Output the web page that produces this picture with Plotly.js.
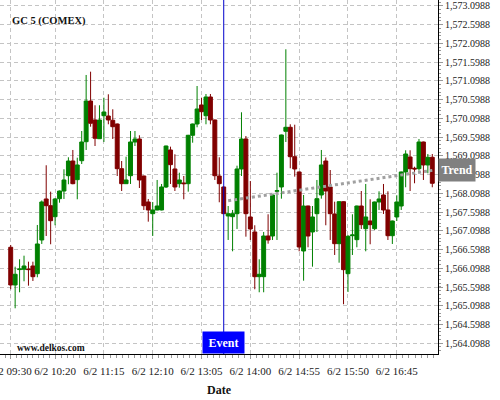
<!DOCTYPE html>
<html><head><meta charset="utf-8">
<script src="https://cdn.plot.ly/plotly-3.0.1.min.js"></script>
<style>html,body{margin:0;padding:0;background:#fff}#chart{width:500px;height:400px}</style>
</head><body><div id="chart"></div>
<script>
const day = '2023-06-02';
const symbol = 'GC 5 (COMEX)';
const watermark = 'www.delkos.com';
const times = ['09:30','09:35','09:40','09:45','09:50','09:55',
 '10:00','10:05','10:10','10:15','10:20','10:25','10:30','10:35','10:40','10:45','10:50','10:55',
 '11:00','11:05','11:10','11:15','11:20','11:25','11:30','11:35','11:40','11:45','11:50','11:55',
 '12:00','12:05','12:10','12:15','12:20','12:25','12:30','12:35','12:40','12:45','12:50','12:55',
 '13:00','13:05','13:10','13:15','13:20','13:25','13:30','13:35','13:40','13:45','13:50','13:55',
 '14:00','14:05','14:10','14:15','14:20','14:25','14:30','14:35','14:40','14:45','14:50','14:55',
 '15:00','15:05','15:10','15:15','15:20','15:25','15:30','15:35','15:40','15:45','15:50','15:55',
 '16:00','16:05','16:10','16:15','16:20','16:25','16:30','16:35','16:40','16:45','16:50','16:55',
 '17:00','17:05','17:10','17:15','17:20','17:25'];
const open = [1566.659,1565.654,1566.064,1566.072,1566.080,1566.160,1565.955,1566.854,1567.947,1567.768,
 1567.475,1567.955,1568.160,1568.568,1568.960,1568.462,1568.968,1569.475,1570.560,1570.054,
 1569.555,1570.168,1570.160,1570.046,1569.947,1568.755,1568.355,1568.568,1569.467,1569.547,
 1568.560,1567.867,1567.555,1567.654,1567.654,1568.267,1569.254,1568.747,1568.355,1568.374,
 1568.355,1569.646,1569.947,1570.454,1570.168,1570.667,1570.054,1568.560,1568.267,1567.494,
 1567.475,1567.555,1568.747,1569.547,1567.467,1567.067,1565.875,1565.875,1566.960,1566.960,
 1568.152,1568.267,1569.752,1569.859,1569.075,1568.667,1566.560,1567.760,1567.067,1567.555,
 1568.054,1568.960,1568.267,1567.547,1566.755,1567.875,1565.955,1566.968,1566.862,1567.760,
 1567.155,1567.360,1567.155,1567.867,1568.054,1567.654,1566.968,1567.467,1567.760,1568.667,
 1569.067,1568.766,1568.755,1569.467,1568.854,1569.059];
const high = [1566.720,1566.142,1566.339,1566.435,1566.275,1566.275,1567.254,1567.907,1568.846,1568.142,
 1567.974,1568.174,1568.739,1569.059,1569.254,1569.048,1569.760,1571.254,1571.342,1570.446,
 1570.446,1570.648,1570.739,1570.339,1569.960,1568.960,1569.075,1569.760,1569.760,1569.646,
 1568.570,1567.947,1567.867,1568.454,1568.347,1569.370,1569.342,1569.139,1568.648,1568.560,
 1569.656,1569.957,1570.960,1570.648,1570.747,1570.747,1570.064,1569.059,1568.280,1567.760,
 1567.654,1568.835,1570.259,1569.627,1568.427,1567.246,1566.339,1567.067,1567.539,1568.064,
 1568.648,1569.664,1571.939,1569.939,1569.928,1568.677,1568.054,1567.770,1567.760,1568.454,
 1569.254,1569.054,1568.720,1567.875,1567.885,1567.885,1566.987,1567.539,1567.770,1568.160,
 1568.347,1567.939,1567.877,1568.152,1568.347,1568.152,1567.370,1568.046,1568.677,1569.246,
 1569.246,1568.808,1569.547,1569.477,1569.147,1569.147];
const low = [1565.539,1565.032,1565.459,1565.752,1565.635,1565.760,1565.859,1566.747,1566.960,1566.739,
 1567.246,1567.848,1567.947,1568.339,1568.339,1567.939,1568.880,1569.254,1569.875,1569.360,
 1569.547,1569.467,1569.939,1569.547,1568.560,1568.160,1568.347,1568.347,1569.360,1568.240,
 1567.654,1567.342,1566.960,1567.644,1567.644,1568.240,1568.347,1568.160,1568.248,1567.939,
 1568.142,1569.448,1569.859,1570.054,1569.939,1569.939,1568.454,1567.859,1567.547,1566.854,
 1566.552,1567.147,1568.560,1566.942,1566.854,1565.539,1565.459,1565.459,1566.755,1566.854,
 1566.854,1567.955,1569.467,1568.766,1568.542,1566.552,1565.768,1566.659,1566.142,1567.067,
 1567.955,1567.246,1566.854,1566.454,1566.248,1565.139,1565.467,1566.454,1566.659,1567.147,
 1566.552,1566.739,1567.120,1567.654,1567.547,1566.854,1566.747,1567.360,1567.654,1568.259,
 1568.160,1568.366,1568.702,1568.454,1568.632,1568.259];
const close = [1565.654,1565.939,1566.080,1566.160,1566.064,1565.875,1566.747,1567.867,1567.768,1567.368,
 1567.947,1568.160,1568.454,1568.960,1568.355,1568.854,1569.467,1570.560,1569.966,1569.566,
 1570.054,1570.267,1570.054,1569.875,1568.755,1568.355,1568.454,1569.467,1569.547,1568.454,
 1567.768,1567.654,1567.654,1567.760,1568.267,1569.360,1568.862,1568.267,1568.454,1568.355,
 1569.646,1569.947,1570.347,1570.275,1570.667,1570.054,1568.568,1568.355,1567.555,1567.555,
 1567.555,1568.747,1569.547,1567.555,1567.147,1565.875,1565.939,1566.960,1566.854,1568.054,
 1568.168,1569.654,1569.859,1569.075,1568.747,1566.667,1567.760,1566.960,1567.467,1567.955,
 1568.854,1568.160,1567.555,1566.755,1567.875,1566.062,1566.952,1566.987,1567.760,1567.262,
 1567.467,1567.262,1567.867,1567.947,1567.654,1566.968,1567.360,1567.867,1568.667,1569.147,
 1568.755,1568.747,1569.467,1568.854,1569.059,1568.366];
const tickTimes = ['09:30','10:20','11:15','12:10','13:05','14:00','14:55','15:50','16:45'];
const eventTime = '13:30';
const eventLabel = 'Event';
const trendTimes = ['13:35','17:25'];
const trendValues = [1567.90, 1568.71];
const trendLabel = 'Trend';

const dt = t => day + ' ' + t;
const xs = times.map(dt);
const tickvals = tickTimes.map(dt);

// minor ticks: 8 subdivisions of each labelled interval
const ms = t => Date.parse(day + 'T' + t + ':00Z');
const fmt = v => new Date(v).toISOString().slice(0,19).replace('T',' ');
const minorVals = [];
for (let i = 0; i < tickTimes.length - 1; i++) {
  const a = ms(tickTimes[i]), b = ms(tickTimes[i+1]);
  for (let k = 1; k < 8; k++) minorVals.push(fmt(a + (b - a) * k / 8));
  if (i === 0) for (let k = 1; k <= 2; k++) minorVals.push(fmt(a - (b - a) * k / 8));
  if (i === tickTimes.length - 2) for (let k = 1; k <= 8; k++) minorVals.push(fmt(b + (b - a) * k / 8));
}

const FONT = '"Liberation Serif", "Times New Roman", Times, serif';
const GRID = '#c4c4c4';
const GRIDDASH = '4px,3px';

const traces = [
  {
    type: 'candlestick', x: xs, open: open, high: high, low: low, close: close,
    increasing: {line: {color: '#008000', width: 1}, fillcolor: '#008000'},
    decreasing: {line: {color: '#800000', width: 1}, fillcolor: '#800000'},
    whiskerwidth: 0, hoverinfo: 'skip'
  },
  {
    type: 'scatter', mode: 'lines', x: trendTimes.map(dt), y: trendValues,
    line: {color: '#a0a0a0', width: 3, dash: 'dot'}, hoverinfo: 'skip'
  }
];

const layout = {
  width: 500, height: 400,
  margin: {l: 0, r: 62, t: 0, b: 46, pad: 0},
  paper_bgcolor: '#ffffff', plot_bgcolor: '#ffffff',
  font: {family: FONT, color: '#222'},
  showlegend: false,
  boxgap: 0.12, boxgroupgap: 0,
  xaxis: {
    type: 'date',
    range: [dt('09:17:56'), dt('17:31:26')],
    tickmode: 'array', tickvals: tickvals, tickformat: '%-m/%-d %H:%M',
    tickfont: {size: 11, color: '#222'},
    ticklabeloverflow: 'allow', ticklabelstandoff: 3,
    showgrid: true, gridcolor: GRID, griddash: GRIDDASH, gridwidth: 1,
    showline: true, linecolor: '#000', linewidth: 1,
    ticks: 'outside', ticklen: 4, tickcolor: '#999',
    minor: {tickmode: 'array', tickvals: minorVals, ticks: 'outside', ticklen: 3, tickcolor: '#999', showgrid: false},
    zeroline: false, rangeslider: {visible: false}, fixedrange: true,
    title: {text: '<b>Date</b>', font: {size: 12, color: '#111'}, standoff: 9}
  },
  yaxis: {
    side: 'right',
    range: [1563.813, 1573.2535],
    tickmode: 'linear', tick0: 1564.0988, dtick: 0.5, tickformat: ',.4f',
    tickfont: {size: 10, color: '#222'},
    showgrid: true, gridcolor: GRID, griddash: GRIDDASH, gridwidth: 1,
    showline: true, linecolor: '#000', linewidth: 1,
    ticks: 'outside', ticklen: 4, tickcolor: '#999',
    minor: {dtick: 0.1, ticks: 'outside', ticklen: 2, tickcolor: '#999', showgrid: false},
    zeroline: false, fixedrange: true
  },
  shapes: [
    {type: 'line', xref: 'x', yref: 'paper', x0: dt(eventTime), x1: dt(eventTime), y0: 0, y1: 1,
     line: {color: '#0000cc', width: 1}, layer: 'above'}
  ],
  annotations: [
    {xref: 'paper', yref: 'paper', x: 0, y: 1, xanchor: 'left', yanchor: 'middle', xshift: 10, yshift: -20.5,
     text: '<b>' + symbol + '</b>', showarrow: false, font: {size: 10.5, color: '#111', family: FONT}},
    {xref: 'paper', yref: 'paper', x: 0, y: 0, xanchor: 'left', yanchor: 'middle', xshift: 15, yshift: 6,
     text: '<b>' + watermark + '</b>', showarrow: false, font: {size: 9.5, color: '#111', family: FONT}},
    {xref: 'x', yref: 'paper', x: dt(eventTime), y: 0, xanchor: 'center', yanchor: 'bottom',
     text: '<b>' + eventLabel + '</b>', showarrow: false, bgcolor: '#0000ff', borderpad: 0,
     width: 41, height: 21, font: {size: 12, color: '#ffffff', family: FONT}},
    {xref: 'paper', yref: 'y', x: 1, y: trendValues[trendValues.length - 1], xanchor: 'left', yanchor: 'middle',
     text: '<b>' + trendLabel + '</b>', showarrow: false, bgcolor: '#808080', borderpad: 0,
     width: 36, height: 22, font: {size: 12, color: '#ffffff', family: FONT}}
  ]
};

Plotly.newPlot('chart', traces, layout, {staticPlot: true, displayModeBar: false});
</script>
</body></html>
